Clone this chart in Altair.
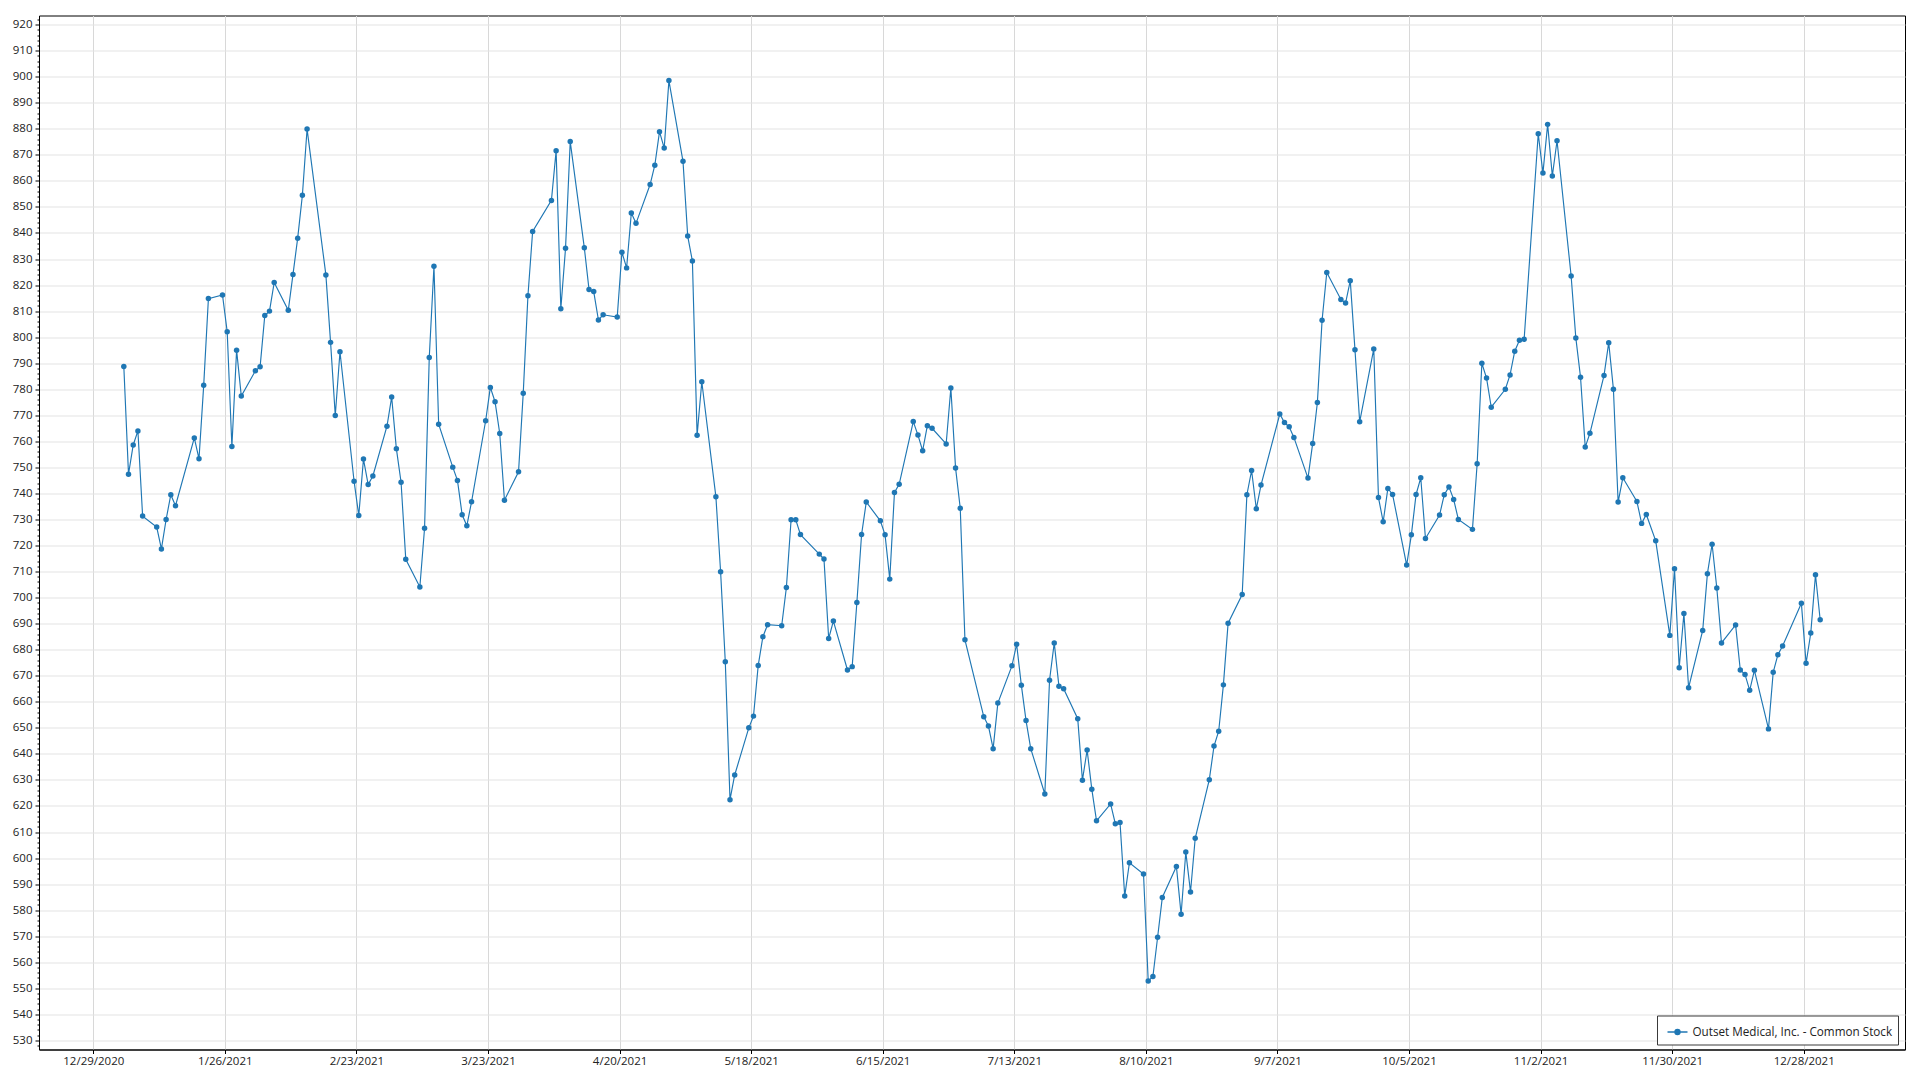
import altair as alt
import pandas as pd

# Outset Medical, Inc. - Common Stock, 2021
jan_days = [4, 5, 6, 7, 8, 11, 12, 13, 14, 15, 19, 20, 21, 22, 25, 26, 27, 28, 29]
jan_vals = [788.7, 747.4, 758.6, 764.0, 731.3, 727.1, 718.7, 730.0, 739.5, 735.3, 761.3, 753.3, 781.5, 814.8, 816.2, 802.1, 758.0, 795.0, 777.4]
feb_days = [1, 2, 3, 4, 5, 8, 9, 10, 11, 12, 16, 17, 18, 19, 22, 23, 24, 25, 26]
feb_vals = [787.1, 788.6, 808.3, 810.0, 821.0, 810.3, 824.1, 838.0, 854.5, 879.9, 823.9, 798.0, 769.9, 794.4, 744.7, 731.5, 753.2, 743.4, 746.7]
mar_days = [1, 2, 3, 4, 5, 8, 9, 10, 11, 12, 15, 16, 17, 18, 19, 22, 23, 24, 25, 26, 29, 30, 31]
mar_vals = [765.8, 777.0, 757.2, 744.3, 714.7, 704.1, 726.6, 792.2, 827.2, 766.6, 750.1, 745.0, 731.8, 727.6, 736.8, 767.9, 780.7, 775.2, 763.0, 737.4, 748.3, 778.5, 815.9]
apr_days = [1, 5, 6, 7, 8, 9, 12, 13, 14, 15, 16, 19, 20, 21, 22, 23, 26, 27, 28, 29, 30]
apr_vals = [840.6, 852.5, 871.6, 810.9, 834.1, 875.1, 834.3, 818.3, 817.5, 806.6, 808.6, 807.7, 832.6, 826.6, 847.7, 843.7, 858.6, 866.0, 878.9, 872.6, 898.5]
may_days = [3, 4, 5, 6, 7, 10, 11, 12, 13, 14, 17, 18, 19, 20, 21, 24, 25, 26, 27, 28]
may_vals = [867.5, 838.8, 829.2, 762.3, 782.9, 738.7, 709.9, 675.4, 622.4, 631.9, 650.0, 654.5, 673.9, 685.0, 689.6, 689.2, 703.9, 729.9, 729.9, 724.2]
jun_days = [1, 2, 3, 4, 7, 8, 9, 10, 11, 14, 15, 16, 17, 18, 21, 22, 23, 24, 25, 28, 29, 30]
jun_vals = [716.7, 714.8, 684.3, 691.0, 672.2, 673.5, 698.1, 724.2, 736.7, 729.5, 724.1, 707.1, 740.4, 743.5, 767.6, 762.4, 756.4, 766.0, 765.0, 759.0, 780.5, 749.8]
jul_days = [1, 2, 6, 7, 8, 9, 12, 13, 14, 15, 16, 19, 20, 21, 22, 23, 26, 27, 28, 29, 30]
jul_vals = [734.3, 683.8, 654.3, 650.7, 642.0, 659.5, 673.8, 682.1, 666.4, 652.8, 642.0, 624.6, 668.3, 682.6, 666.0, 665.0, 653.5, 629.9, 641.5, 626.4, 614.3]
aug_days = [2, 3, 4, 5, 6, 9, 10, 11, 12, 13, 16, 17, 18, 19, 20, 23, 24, 25, 26, 27, 30, 31]
aug_vals = [620.8, 613.2, 613.7, 585.4, 598.2, 593.9, 552.8, 554.5, 569.6, 584.9, 596.8, 578.4, 602.3, 587.0, 607.6, 630.1, 643.0, 648.7, 666.5, 690.2, 701.2, 739.5]
sep_days = [1, 2, 3, 7, 8, 9, 10, 13, 14, 15, 16, 17, 20, 21, 22, 23, 24, 27, 28, 29, 30]
sep_vals = [748.8, 734.1, 743.2, 770.5, 767.2, 765.6, 761.5, 745.9, 759.2, 774.9, 806.5, 824.8, 814.5, 813.1, 821.7, 795.2, 767.5, 795.5, 738.4, 729.1, 741.9]
oct_days = [1, 4, 5, 6, 7, 8, 11, 12, 13, 14, 15, 18, 19, 20, 21, 22, 25, 26, 27, 28, 29]
oct_vals = [739.6, 712.5, 724.1, 739.6, 746.0, 722.7, 731.7, 739.5, 742.5, 737.7, 730.0, 726.2, 751.4, 790.0, 784.3, 773.1, 780.0, 785.5, 794.6, 798.8, 799.2]
nov_days = [1, 2, 3, 4, 5, 8, 9, 10, 11, 12, 15, 16, 17, 18, 19, 22, 23, 24, 26, 29, 30]
nov_vals = [878.1, 863.0, 881.7, 861.9, 875.4, 823.5, 799.7, 784.6, 757.8, 763.1, 785.3, 797.9, 780.0, 736.7, 746.0, 736.9, 728.5, 731.9, 721.8, 685.5, 711.1]
dec_days = [1, 2, 3, 6, 7, 8, 9, 10, 13, 14, 15, 16, 17, 20, 21, 22, 23, 27, 28, 29, 30, 31]
dec_vals = [673.1, 693.9, 665.4, 687.4, 709.2, 720.5, 703.7, 682.6, 689.5, 672.2, 670.5, 664.4, 672.1, 649.6, 671.3, 678.1, 681.4, 697.8, 674.8, 686.4, 708.8, 691.5]

series_name = "Outset Medical, Inc. - Common Stock"

# x-axis tick dates (every 28 days)
tick_dates = [(2020, 12, 29), (2021, 1, 26), (2021, 2, 23), (2021, 3, 23), (2021, 4, 20),
              (2021, 5, 18), (2021, 6, 15), (2021, 7, 13), (2021, 8, 10), (2021, 9, 7),
              (2021, 10, 5), (2021, 11, 2), (2021, 11, 30), (2021, 12, 28)]

months = [(1, jan_days, jan_vals), (2, feb_days, feb_vals), (3, mar_days, mar_vals),
          (4, apr_days, apr_vals), (5, may_days, may_vals), (6, jun_days, jun_vals),
          (7, jul_days, jul_vals), (8, aug_days, aug_vals), (9, sep_days, sep_vals),
          (10, oct_days, oct_vals), (11, nov_days, nov_vals), (12, dec_days, dec_vals)]

rows = []
for m, days, vals in months:
    for d, v in zip(days, vals):
        rows.append({"date": f"2021-{m:02d}-{d:02d}T12:00:00", "price": v, "series": series_name})
df = pd.DataFrame(rows)

FONT = "Open Sans"
BLUE = "#1f77b4"

y_ticks = list(range(528, 923, 2))
major = "datum.value % 10 === 0"

x_axis = alt.Axis(
    values=[alt.DateTime(year=y, month=m, date=d) for (y, m, d) in tick_dates],
    format="%-m/%-d/%Y", title=None, labelOverlap=False, labelFlush=False,
    tickSize=4, tickColor="black", domainColor="black", labelPadding=2,
    gridColor="#d8d8d8", gridWidth=1,
)
y_axis = alt.Axis(
    values=y_ticks, title=None, labelOverlap=False,
    labelExpr=f"{major} ? datum.label : ''",
    tickSize={"condition": {"test": major, "value": 4}, "value": 2},
    gridOpacity={"condition": {"test": major, "value": 1}, "value": 0},
    gridColor="#e3e3e3", gridWidth=1,
    tickColor="black", domainColor="black", labelPadding=3,
)

legend = alt.Legend(
    title=None, orient="none", legendX=1618, legendY=1000,
    fillColor="white", strokeColor="#3a3a3a", padding=5.5,
    symbolType="M-1,0H1M-0.25,0a0.25,0.25 0 1,0 0.5,0a0.25,0.25 0 1,0 -0.5,0",
    symbolSize=400, symbolStrokeWidth=1.4, symbolFillColor=BLUE, symbolStrokeColor=BLUE,
    labelFontSize=11.7, labelFont=FONT, labelColor="#222222", symbolOffset=4,
    labelLimit=400,
)

chart = alt.Chart(df).mark_line(
    strokeWidth=1.15, point=alt.OverlayMarkDef(filled=True, size=30, opacity=1)
).encode(
    x=alt.X("date:T", axis=x_axis,
            scale=alt.Scale(domain=[alt.DateTime(year=2020, month=12, date=17, hours=10, minutes=48),
                                    alt.DateTime(year=2022, month=1, date=18, hours=13, minutes=12)])),
    y=alt.Y("price:Q", axis=y_axis,
            scale=alt.Scale(domain=[526.5, 923.5], nice=False, zero=False)),
    color=alt.Color("series:N", scale=alt.Scale(range=[BLUE]), legend=legend),
).properties(
    width=1866, height=1034,
    autosize=alt.AutoSizeParams(type="none"),
    padding={"left": 31, "top": 7.5, "right": 7, "bottom": 20},
).configure_view(
    stroke="black", strokeWidth=1
).configure_axis(
    labelFont=FONT, labelFontSize=11.5, labelColor="#222222"
)

chart.save("out.html", embed_options={"renderer": "svg", "actions": False})
